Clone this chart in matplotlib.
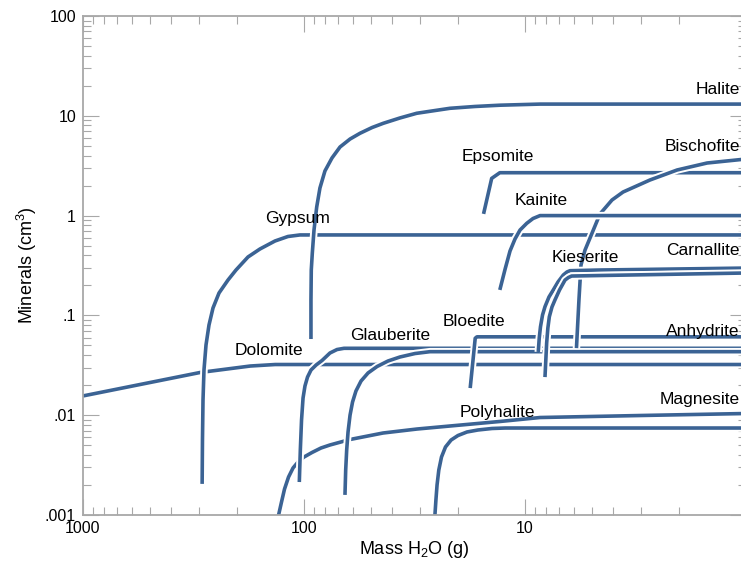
import matplotlib
matplotlib.use('Agg')
import matplotlib.pyplot as plt
import matplotlib.patheffects as pe
from matplotlib.ticker import LogLocator, NullFormatter

plt.rcParams['font.family'] = ['Liberation Sans', 'DejaVu Sans']
plt.rcParams['mathtext.fontset'] = 'custom'
plt.rcParams['mathtext.rm'] = 'Liberation Sans'

# ---- data (mass of water in g, mineral volume in cm3) ----
dolomite_x = [1000, 295, 175, 135, 1]
dolomite_y = [0.0156, 0.0268, 0.0311, 0.0322, 0.0322]

gypsum_x = [289, 288, 286.4, 283.5, 277.6, 269.1, 258.1, 242.4, 220.8, 203.1, 179.2, 158.2,
            135.3, 118.2, 104.3, 1]
gypsum_y = [0.00205, 0.00564, 0.0142, 0.0284, 0.0505, 0.0801, 0.1186, 0.1677, 0.226, 0.285,
            0.385, 0.463, 0.5565, 0.6175, 0.64, 0.64]

halite_x = [93, 93, 92.7, 91.7, 90.1, 87.6, 84.7, 80.4, 74.7, 68.7, 61.9, 55.8, 49.2, 43.8,
            36.8, 30.9, 25.5, 21.85, 16.84, 12.97, 8.55, 1]
halite_y = [0.058, 0.1427, 0.285, 0.422, 0.717, 1.22, 1.89, 2.80, 3.78, 4.87, 5.85, 6.68, 7.63,
            8.41, 9.51, 10.6, 11.3, 11.89, 12.4, 12.77, 13.1, 13.1]

magnesite_x = [131, 126.4, 122.5, 117.5, 112.1, 106.4, 100, 92.0, 83.8, 76.3, 61.9, 43.9, 30.8,
               21.9, 13.0, 8.55, 3.0, 1]
magnesite_y = [0.00095, 0.00135, 0.00182, 0.0024, 0.00296, 0.0034, 0.00381, 0.00423, 0.00469,
               0.00503, 0.00571, 0.00663, 0.00727, 0.00779, 0.00865, 0.00948, 0.00993, 0.0104]

glauberite_x = [105, 103.9, 102.6, 101.0, 99.0, 96.4, 92.96, 88.2, 82.9, 76.3, 70.9, 65.9, 1]
glauberite_y = [0.00214, 0.00448, 0.00895, 0.01487, 0.01962, 0.0241, 0.02837, 0.0318, 0.0353,
                0.042, 0.0455, 0.0468, 0.0468]

anhydrite_x = [65.25, 64.77, 64.1, 63.2, 61.9, 60.3, 58.2, 55.2, 51.3, 46.7, 41.7, 36.8, 31.45,
               26.9, 1]
anhydrite_y = [0.00159, 0.00282, 0.00448, 0.00679, 0.01, 0.01356, 0.01748, 0.022, 0.0265,
               0.03076, 0.0349, 0.0383, 0.0415, 0.0433, 0.0433]

polyhalite_x = [25.6, 25.3, 25.0, 24.55, 23.87, 22.9, 21.6, 20.1, 18.3, 16.32, 14.1, 12.3, 1]
polyhalite_y = [0.00095, 0.00141, 0.002, 0.00282, 0.00381, 0.0048, 0.00564, 0.00626, 0.00679,
                0.00711, 0.00736, 0.00744, 0.00744]

bloedite_x = [17.7, 16.8, 16.5, 1]
bloedite_y = [0.0187, 0.059, 0.061, 0.061]

epsomite_x = [15.4, 14.15, 13.0, 1]
epsomite_y = [1.04, 2.36, 2.69, 2.69]

bischofite_x = [5.85, 5.70, 5.58, 5.35, 5.08, 4.58, 4.04, 3.60, 2.72, 2.05, 1.50, 1]
bischofite_y = [0.047, 0.143, 0.32, 0.452, 0.596, 1.037, 1.433, 1.723, 2.274, 2.864, 3.365, 3.69]

kainite_x = [13.0, 12.3, 11.69, 11.1, 10.53, 9.82, 9.2, 8.55, 1]
kainite_y = [0.18, 0.2917, 0.4418, 0.5826, 0.717, 0.837, 0.935, 1.0, 1.0]

carnallite_x = [8.71, 8.62, 8.51, 8.33, 8.12, 7.79, 7.45, 7.09, 6.71, 6.46, 6.26, 4.58, 1]
carnallite_y = [0.043, 0.0594, 0.077, 0.101, 0.1223, 0.1529, 0.1797, 0.2162, 0.254, 0.2722,
                0.2805, 0.285, 0.298]

kieserite_x = [8.12, 8.05, 7.98, 7.88, 7.76, 7.55, 7.32, 6.98, 6.59, 6.36, 6.15, 4.58, 1]
kieserite_y = [0.0241, 0.0357, 0.0529, 0.0747, 0.097, 0.1214, 0.1427, 0.1797, 0.226, 0.2398,
               0.248, 0.251, 0.266]

series = [
    (dolomite_x, dolomite_y), (gypsum_x, gypsum_y), (halite_x, halite_y),
    (magnesite_x, magnesite_y), (glauberite_x, glauberite_y), (anhydrite_x, anhydrite_y),
    (polyhalite_x, polyhalite_y), (bloedite_x, bloedite_y), (epsomite_x, epsomite_y),
    (bischofite_x, bischofite_y), (kainite_x, kainite_y), (carnallite_x, carnallite_y),
    (kieserite_x, kieserite_y),
]

# labels: text, x, y, horizontal alignment
label_text = ['Halite', 'Bischofite', 'Epsomite', 'Kainite', 'Gypsum', 'Carnallite', 'Kieserite',
              'Bloedite', 'Anhydrite', 'Glauberite', 'Dolomite', 'Polyhalite', 'Magnesite']
label_x = [1.065, 1.065, 19.3, 11.1, 150, 1.065, 7.55, 23.5, 1.065, 61.9, 207, 19.7, 1.065]
label_y = [18.5, 4.87, 3.87, 1.43, 0.925, 0.452, 0.376, 0.0859, 0.0682, 0.0622, 0.045, 0.01076, 0.01453]
label_ha = ['right', 'right', 'left', 'left', 'left', 'right', 'left', 'left', 'right', 'left',
            'left', 'left', 'right']

x_ticks = [1000, 100, 10, 1]
x_ticklabels = ['1000', '100', '10', '']
y_ticks = [0.001, 0.01, 0.1, 1, 10, 100]
y_ticklabels = ['.001', '.01', '.1', '1', '10', '100']

# ---- figure ----
W, H = 741, 565
fig = plt.figure(figsize=(W / 100, H / 100), dpi=100)
ax = fig.add_axes([83 / W, 50 / H, 663 / W, 499 / H])
ax.set_xscale('log')
ax.set_yscale('log')
ax.set_xlim(1000, 1)
ax.set_ylim(0.001, 100)

color = '#3b6394'
lw = 2.6
for xs, ys in series:
    ax.plot(xs, ys, color=color, lw=lw, solid_joinstyle='round', solid_capstyle='butt',
            path_effects=[pe.Stroke(linewidth=lw + 2.8, foreground='white'), pe.Normal()])

for t, x, y, ha in zip(label_text, label_x, label_y, label_ha):
    ax.text(x, y, t, ha=ha, va='center', fontsize=12.5, color='black')

ax.set_xticks(x_ticks)
ax.set_xticklabels(x_ticklabels)
ax.set_yticks(y_ticks)
ax.set_yticklabels(y_ticklabels)
ax.xaxis.set_minor_locator(LogLocator(base=10, subs=range(2, 10)))
ax.yaxis.set_minor_locator(LogLocator(base=10, subs=range(2, 10)))
ax.xaxis.set_minor_formatter(NullFormatter())
ax.yaxis.set_minor_formatter(NullFormatter())

gray = '#a8a8a8'
ax.tick_params(which='both', direction='in', top=True, right=True, color=gray,
               labelsize=11.5, labelcolor='black')
ax.tick_params(which='major', length=11.5, width=0.8)
ax.tick_params(which='minor', length=5.8, width=0.8)
ax.tick_params(axis='y', pad=5)
ax.tick_params(axis='x', pad=4)
for s in ax.spines.values():
    s.set_color(gray)
    s.set_linewidth(1.3)

fig.text(414 / W, 1 - 550 / H, 'Mass H$\\mathregular{_2}$O (g)', ha='center', va='center', fontsize=13)
fig.text(27 / W, 1 - 265 / H, 'Minerals (cm$\\mathregular{^3}$)', ha='center', va='center',
         fontsize=13, rotation=90)

fig.savefig('out.png', dpi=100)
